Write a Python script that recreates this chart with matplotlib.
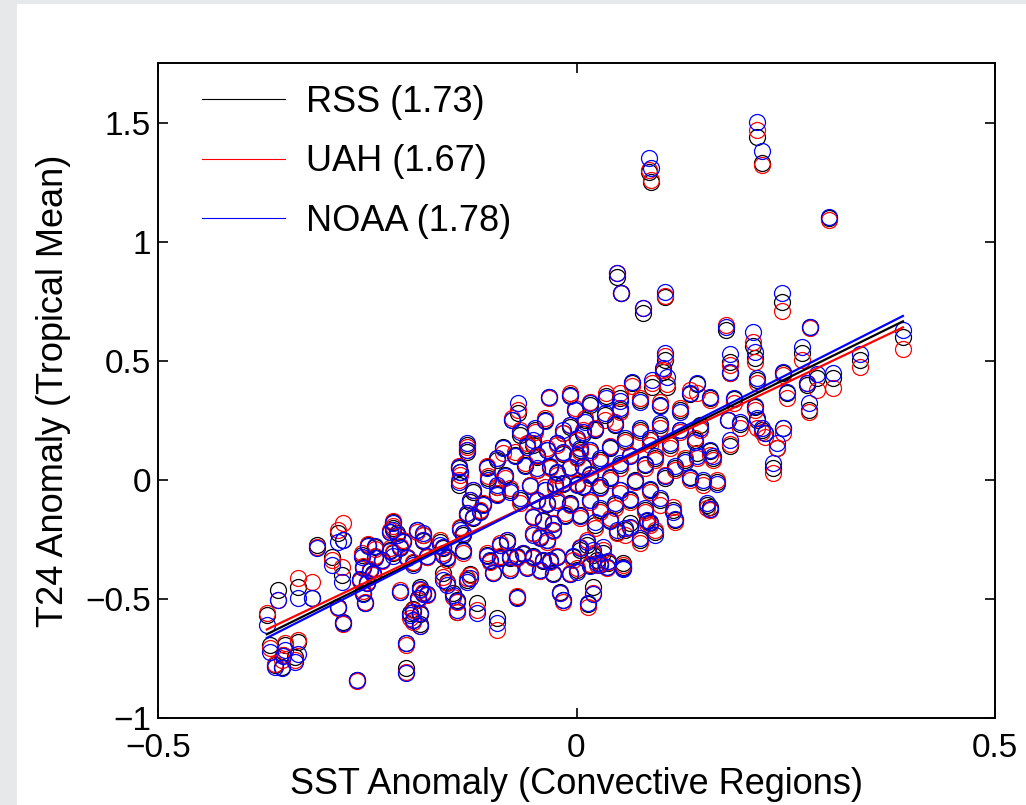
import matplotlib
matplotlib.use("Agg")
import matplotlib.pyplot as plt
from matplotlib.lines import Line2D
from matplotlib.patches import Rectangle

plt.rcParams['font.family'] = ['Liberation Sans', 'DejaVu Sans']

# SST anomaly (convective regions) and T24 anomaly (tropical mean) per dataset
sst = [
    0.087, 0.089, 0.216, 0.222, 0.302, 0.048, 0.053, 0.079, 0.106, 0.106,
    0.179, 0.211, 0.246, 0.279, 0.269, 0.339, 0.390, 0.306, 0.278, 0.287,
    0.247, 0.251, 0.275, 0.247, 0.240, 0.235, 0.225, 0.213, 0.103, 0.108,
    0.090, 0.066, 0.052, 0.035, 0.144, 0.136, 0.159, 0.183, 0.183, 0.216,
    0.188, 0.181, 0.195, 0.216, 0.213, 0.222, 0.183, 0.159, 0.163, 0.144,
    0.136, 0.151, 0.168, 0.156, 0.159, 0.115, 0.118, 0.084, 0.088, 0.064,
    0.048, 0.032, 0.013, 0.004, 0.020, 0.056, 0.038, -0.004, 0.001, 0.024,
    -0.070, -0.077, -0.033, -0.131, -0.131, -0.088, -0.059, -0.052, -0.140, -0.139,
    -0.107, -0.095, -0.140, -0.124, -0.127, -0.095, -0.095, -0.112, -0.115, -0.131,
    -0.124, -0.139, -0.136, -0.163, -0.159, -0.183, -0.183, -0.191, -0.214, -0.207,
    -0.219, -0.159, -0.155, -0.136, -0.107, -0.103, -0.091, -0.083, -0.091, -0.079,
    -0.071, -0.064, -0.052, -0.040, -0.032, -0.023, -0.052, -0.044, -0.035, -0.028,
    -0.052, -0.040, -0.028, -0.047, -0.035, -0.023, -0.008, -0.016, 0.001, 0.008,
    -0.016, 0.001, 0.008, -0.008, -0.023, -0.016, 0.001, 0.008, -0.008, -0.047,
    -0.035, -0.047, -0.032, -0.023, -0.008, -0.020, -0.016, 0.020, 0.014, -0.071,
    -0.119, -0.143, -0.095, -0.159, -0.155, -0.187, -0.183, -0.211, -0.195, -0.187,
    -0.127, -0.131, -0.148, -0.143, -0.219, -0.211, -0.203, -0.195, -0.179, -0.100,
    -0.079, -0.059, -0.044, -0.028, -0.189, -0.179, -0.199, -0.195, -0.187, -0.204,
    -0.204, -0.262, 0.056, 0.028, 0.036, 0.016, -0.370, -0.366, -0.360, -0.352,
    -0.351, -0.348, -0.333, -0.336, -0.357, -0.333, -0.316, -0.310, -0.285, -0.279,
    -0.292, -0.280, -0.285, -0.279, -0.256, -0.249, -0.241, -0.241, -0.232, -0.223,
    -0.223, -0.219, -0.255, -0.247, -0.243, -0.250, -0.259, -0.255, -0.253, -0.002,
    0.010, 0.022, 0.034, 0.046, 0.058, 0.076, 0.088, 0.100, 0.112, 0.124,
    0.016, 0.028, 0.040, 0.052, 0.064, 0.082, 0.094, 0.016, 0.028, 0.040,
    0.052, 0.070, 0.088, 0.106, 0.118, 0.016, 0.028, 0.046, 0.064, 0.082,
    0.100, 0.004, 0.022, 0.040, 0.058, 0.076, 0.094, 0.130, 0.142, 0.148,
    0.124, 0.100, 0.076, 0.052, -0.008, 0.004, -0.014, -0.026, -0.038, -0.056,
    -0.068, -0.079, -0.062, -0.073, -0.068, -0.085, -0.106, -0.050, -0.038, 0.016,
]

t24_rss = [
    1.294, 1.252, 1.441, 1.332, 1.101, 0.853, 0.786, 0.702, 0.769, 0.504,
    0.630, 0.563, 0.748, 0.643, 0.534, 0.504, 0.601, 0.429, 0.294, 0.429,
    0.450, 0.366, 0.399, 0.218, 0.134, 0.050, 0.197, 0.513, 0.454, 0.391,
    0.391, 0.408, 0.345, 0.353, 0.403, 0.361, 0.345, 0.496, 0.450, 0.420,
    0.340, 0.252, 0.235, 0.252, 0.307, 0.210, 0.143, 0.122, 0.092, 0.113,
    0.013, -0.008, -0.008, -0.105, -0.113, -0.126, -0.168, -0.172, -0.181, -0.181,
    -0.218, -0.307, -0.273, -0.294, -0.315, -0.349, -0.349, -0.324, -0.378, -0.336,
    0.282, 0.252, 0.349, 0.147, 0.118, 0.139, 0.147, 0.147, 0.050, 0.034,
    0.055, 0.084, -0.021, -0.050, -0.092, -0.029, -0.059, -0.101, -0.130, -0.147,
    -0.160, -0.202, -0.231, -0.261, -0.286, -0.231, -0.256, -0.210, -0.223, -0.256,
    -0.202, -0.315, -0.328, -0.294, -0.315, -0.340, -0.273, -0.261, -0.324, -0.328,
    -0.324, -0.311, -0.319, -0.340, -0.336, -0.324, -0.223, -0.239, -0.252, -0.210,
    -0.155, -0.172, -0.181, -0.084, -0.101, -0.084, -0.097, -0.017, -0.017, -0.029,
    0.197, 0.168, 0.193, 0.223, 0.155, 0.109, 0.097, 0.055, 0.055, 0.097,
    0.126, 0.042, 0.055, 0.029, -0.395, -0.471, -0.504, -0.450, -0.521, -0.492,
    -0.517, -0.555, -0.580, -0.391, -0.429, -0.450, -0.475, -0.471, -0.542, -0.563,
    -0.395, -0.420, -0.475, -0.504, -0.307, -0.282, -0.324, -0.349, -0.324, -0.391,
    -0.378, -0.366, -0.378, -0.391, -0.496, -0.479, -0.559, -0.588, -0.605, -0.685,
    -0.790, -0.840, -0.366, -0.349, -0.366, -0.357, -0.567, -0.693, -0.777, -0.786,
    -0.735, -0.693, -0.681, -0.744, -0.462, -0.450, -0.496, -0.273, -0.223, -0.252,
    -0.324, -0.399, -0.534, -0.597, -0.315, -0.273, -0.282, -0.324, -0.336, -0.294,
    -0.218, -0.176, -0.366, -0.378, -0.391, -0.433, -0.420, -0.475, -0.517, 0.294,
    0.252, 0.210, 0.273, 0.231, 0.168, 0.210, 0.168, 0.231, 0.147, 0.210,
    0.126, 0.084, 0.134, 0.063, 0.105, 0.063, 0.092, 0.021, -0.021, 0.008,
    -0.042, 0.000, -0.042, 0.008, 0.050, -0.084, -0.126, -0.105, -0.084, -0.126,
    -0.084, -0.147, -0.189, -0.168, -0.210, -0.252, -0.218, 0.084, 0.168, 0.231,
    0.294, 0.315, 0.336, 0.294, 0.357, 0.126, -0.147, -0.021, -0.042, -0.021,
    -0.084, -0.042, 0.063, 0.105, 0.189, 0.021, 0.008, 0.210, 0.252, 0.315,
]

t24_uah = [
    1.303, 1.261, 1.471, 1.324, 1.092, 0.870, 0.786, 0.723, 0.773, 0.521,
    0.651, 0.580, 0.710, 0.639, 0.504, 0.475, 0.550, 0.387, 0.286, 0.378,
    0.441, 0.345, 0.408, 0.197, 0.134, 0.029, 0.181, 0.496, 0.462, 0.403,
    0.408, 0.395, 0.366, 0.366, 0.366, 0.378, 0.336, 0.483, 0.450, 0.408,
    0.324, 0.252, 0.218, 0.218, 0.294, 0.202, 0.151, 0.105, 0.084, 0.092,
    0.000, -0.021, 0.000, -0.118, -0.126, -0.113, -0.176, -0.185, -0.189, -0.202,
    -0.223, -0.294, -0.252, -0.282, -0.307, -0.357, -0.345, -0.336, -0.370, -0.357,
    0.294, 0.261, 0.345, 0.139, 0.126, 0.113, 0.155, 0.155, 0.059, 0.021,
    0.059, 0.092, 0.000, -0.042, -0.084, -0.029, -0.055, -0.097, -0.126, -0.139,
    -0.155, -0.197, -0.223, -0.252, -0.282, -0.231, -0.252, -0.218, -0.231, -0.252,
    -0.193, -0.307, -0.336, -0.307, -0.307, -0.345, -0.265, -0.252, -0.319, -0.319,
    -0.328, -0.307, -0.328, -0.336, -0.345, -0.319, -0.223, -0.235, -0.261, -0.214,
    -0.151, -0.168, -0.181, -0.088, -0.097, -0.084, -0.105, -0.013, -0.013, -0.025,
    0.197, 0.168, 0.210, 0.231, 0.147, 0.113, 0.092, 0.059, 0.050, 0.101,
    0.134, 0.042, 0.050, 0.021, -0.391, -0.475, -0.513, -0.475, -0.534, -0.487,
    -0.546, -0.555, -0.630, -0.408, -0.433, -0.462, -0.471, -0.462, -0.546, -0.559,
    -0.399, -0.412, -0.492, -0.513, -0.303, -0.277, -0.324, -0.345, -0.324, -0.387,
    -0.370, -0.366, -0.382, -0.395, -0.504, -0.483, -0.580, -0.597, -0.613, -0.693,
    -0.807, -0.845, -0.370, -0.353, -0.370, -0.353, -0.559, -0.706, -0.773, -0.756,
    -0.735, -0.685, -0.672, -0.756, -0.504, -0.412, -0.429, -0.282, -0.210, -0.181,
    -0.336, -0.366, -0.538, -0.605, -0.307, -0.269, -0.290, -0.319, -0.340, -0.286,
    -0.210, -0.172, -0.361, -0.374, -0.399, -0.429, -0.424, -0.466, -0.513, 0.303,
    0.261, 0.218, 0.252, 0.244, 0.160, 0.202, 0.147, 0.218, 0.134, 0.202,
    0.118, 0.076, 0.143, 0.050, 0.105, 0.050, 0.084, 0.008, -0.034, 0.000,
    -0.055, -0.008, -0.050, 0.021, 0.042, -0.092, -0.134, -0.118, -0.092, -0.134,
    -0.105, -0.160, -0.202, -0.160, -0.231, -0.265, -0.210, 0.092, 0.176, 0.210,
    0.303, 0.328, 0.345, 0.286, 0.366, 0.118, -0.139, -0.034, -0.029, -0.021,
    -0.097, -0.034, 0.071, 0.118, 0.210, 0.008, 0.017, 0.202, 0.261, 0.328,
]

t24_noaa = [
    1.353, 1.311, 1.504, 1.382, 1.105, 0.870, 0.786, 0.723, 0.790, 0.534,
    0.643, 0.622, 0.786, 0.643, 0.559, 0.529, 0.630, 0.450, 0.324, 0.445,
    0.454, 0.370, 0.408, 0.218, 0.155, 0.071, 0.197, 0.538, 0.471, 0.433,
    0.420, 0.412, 0.332, 0.345, 0.408, 0.366, 0.349, 0.529, 0.454, 0.429,
    0.345, 0.252, 0.244, 0.261, 0.311, 0.218, 0.168, 0.126, 0.101, 0.101,
    0.008, 0.000, -0.017, -0.097, -0.122, -0.134, -0.164, -0.168, -0.176, -0.197,
    -0.210, -0.282, -0.261, -0.286, -0.294, -0.370, -0.340, -0.319, -0.387, -0.349,
    0.324, 0.252, 0.349, 0.155, 0.126, 0.134, 0.139, 0.168, 0.055, 0.034,
    0.050, 0.092, -0.008, -0.042, -0.084, -0.021, -0.063, -0.105, -0.134, -0.139,
    -0.155, -0.210, -0.223, -0.273, -0.282, -0.223, -0.252, -0.210, -0.231, -0.261,
    -0.210, -0.315, -0.324, -0.298, -0.319, -0.336, -0.273, -0.252, -0.328, -0.324,
    -0.319, -0.307, -0.324, -0.336, -0.340, -0.324, -0.231, -0.244, -0.252, -0.210,
    -0.155, -0.168, -0.185, -0.084, -0.097, -0.092, -0.101, -0.013, -0.021, -0.025,
    0.210, 0.176, 0.202, 0.231, 0.155, 0.118, 0.105, 0.059, 0.055, 0.105,
    0.126, 0.050, 0.059, 0.034, -0.395, -0.475, -0.504, -0.479, -0.517, -0.496,
    -0.559, -0.546, -0.601, -0.420, -0.441, -0.458, -0.479, -0.471, -0.555, -0.559,
    -0.412, -0.429, -0.483, -0.508, -0.319, -0.286, -0.328, -0.357, -0.319, -0.391,
    -0.378, -0.370, -0.378, -0.395, -0.496, -0.479, -0.567, -0.588, -0.613, -0.685,
    -0.811, -0.840, -0.374, -0.357, -0.366, -0.361, -0.609, -0.723, -0.786, -0.790,
    -0.739, -0.714, -0.731, -0.765, -0.504, -0.496, -0.496, -0.286, -0.261, -0.252,
    -0.357, -0.429, -0.534, -0.601, -0.324, -0.277, -0.277, -0.328, -0.336, -0.298,
    -0.218, -0.181, -0.370, -0.382, -0.395, -0.433, -0.416, -0.479, -0.517, 0.294,
    0.244, 0.214, 0.282, 0.235, 0.176, 0.218, 0.176, 0.239, 0.155, 0.210,
    0.126, 0.092, 0.139, 0.071, 0.101, 0.067, 0.101, 0.025, -0.029, 0.013,
    -0.042, -0.004, -0.038, 0.017, 0.059, -0.084, -0.118, -0.097, -0.080, -0.118,
    -0.076, -0.151, -0.176, -0.172, -0.202, -0.244, -0.231, 0.076, 0.160, 0.218,
    0.286, 0.311, 0.328, 0.303, 0.353, 0.134, -0.151, -0.017, -0.042, -0.025,
    -0.076, -0.050, 0.059, 0.101, 0.202, 0.017, 0.000, 0.218, 0.248, 0.324,
]

# regression fits (slope, intercept) as shown in the figure
datasets = ['RSS', 'UAH', 'NOAA']
slopes = [1.73, 1.67, 1.78]
intercepts = [-0.008, -0.010, -0.005]
colors = ['black', 'red', 'blue']

fig = plt.figure(figsize=(10.26, 8.05), dpi=100)
# grey screenshot margin at top and left
fig.patches.append(Rectangle((0, 0), 17 / 1026, 1, transform=fig.transFigure,
                             facecolor='#e7e8ea', edgecolor='none', zorder=0))
fig.patches.append(Rectangle((0, 1 - 4 / 805), 1, 4 / 805, transform=fig.transFigure,
                             facecolor='#e7e8ea', edgecolor='none', zorder=0))

ax = fig.add_axes([158 / 1026, 1 - 718 / 805, 837 / 1026, 654.5 / 805])

series = [t24_rss, t24_uah, t24_noaa]
for ys, c in zip(series, colors):
    ax.plot(sst, ys, linestyle='none', marker='o', markersize=11.5,
            markerfacecolor='none', markeredgecolor=c, markeredgewidth=0.9)

xfit = [min(sst), max(sst)]
for m, b, c in zip(slopes, intercepts, colors):
    ax.plot(xfit, [m * x + b for x in xfit], color=c, lw=1.6)

handles = [Line2D([], [], color=c, lw=0.8) for c in colors]
labels = ['%s (%.2f)' % (d, s) for d, s in zip(datasets, slopes)]
ax.legend(handles, labels, loc='upper left', bbox_to_anchor=(0.022, 1.006),
          frameon=False, fontsize=26, handlelength=2.3, handletextpad=0.6,
          labelspacing=0.68, borderpad=0.2)

ax.set_xlim(-0.5, 0.5)
ax.set_ylim(-1, 1.75)
ax.set_xticks([-0.5, 0, 0.5])
ax.set_xticklabels(['\u22120.5', '0', '0.5'])
ax.set_yticks([-1, -0.5, 0, 0.5, 1, 1.5])
ax.set_yticklabels(['\u22121', '\u22120.5', '0', '0.5', '1', '1.5'])
ax.tick_params(direction='in', length=7, width=1.2, labelsize=24,
               top=True, right=True)
ax.tick_params(axis='x', pad=11)
ax.tick_params(axis='y', pad=5)
for sp in ax.spines.values():
    sp.set_linewidth(1.4)

ax.set_xlabel('SST Anomaly (Convective Regions)', fontsize=26, labelpad=2)
ax.set_ylabel('T24 Anomaly (Tropical Mean)', fontsize=26, labelpad=10)

fig.savefig('out.png', dpi=100, facecolor='white')
